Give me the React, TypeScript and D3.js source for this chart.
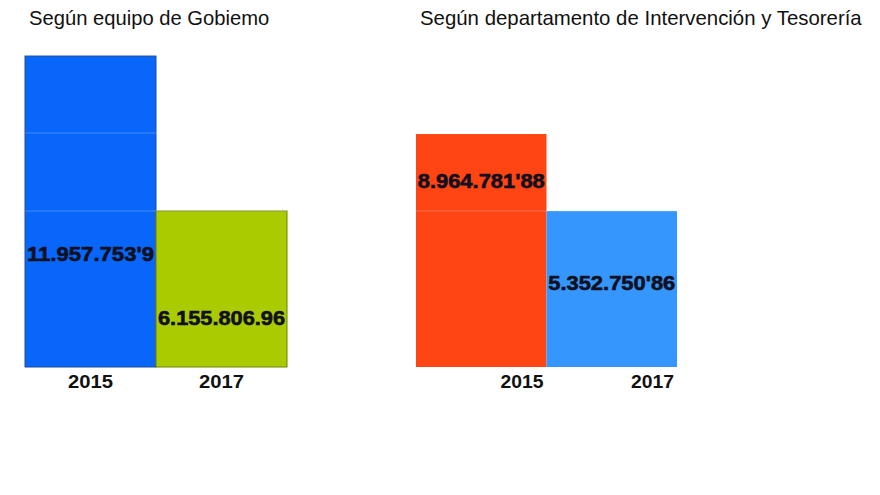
import React from "react";
import * as d3 from "d3";

const years = ["2015", "2017"];
const titles = ["Según equipo de Gobiemo", "Según departamento de Intervención y Tesorería"];
// bar heights in millions
const govHeights = [11.96, 6.0];
const treasuryHeights = [8.96, 6.0];
const govLabels = ["11.957.753'9", "6.155.806.96"];
const treasuryLabels = ["8.964.781'88", "5.352.750'86"];
const gridValues = [6, 9];

const W = 880;
const H = 495;

export default function App() {
  const y = d3.scaleLinear().domain([0, 12]).range([367, 55]);
  const xL = d3.scaleBand().domain(years).range([25, 287]).padding(0);
  const xR = d3.scaleBand().domain(years).range([416, 677]).padding(0);

  const govFill = ["#0866fb", "#aacb00"];
  const govStroke = ["#1d4f9c", "#6f8200"];
  const trFill = ["#ff4513", "#3597fd"];

  const labelYGov = [254, 318];
  const labelYTr = [181, 283];

  return (
    <svg width={W} height={H} style={{ position: "absolute", left: 0, top: 0, background: "#fff" }}
      fontFamily="'Liberation Sans', Arial, sans-serif">
      <text x={29} y={25} fontSize={20.2} fill="#111">{titles[0]}</text>
      <text x={420} y={25} fontSize={20.4} fill="#111">{titles[1]}</text>

      {years.map((yr, i) => (
        <rect key={"g" + yr} x={xL(yr)!} y={y(govHeights[i])} width={xL.bandwidth()}
          height={y(0) - y(govHeights[i])} fill={govFill[i]} stroke={govStroke[i]} strokeWidth={1} />
      ))}
      {years.map((yr, i) => (
        <rect key={"t" + yr} x={xR(yr)!} y={y(treasuryHeights[i])} width={xR.bandwidth()}
          height={y(0) - y(treasuryHeights[i])} fill={trFill[i]} />
      ))}
      {gridValues.map((v) => (
        <g key={"grid" + v}>
          <line x1={xL.range()[0]} x2={xL.range()[1]} y1={y(v)} y2={y(v)} stroke="#fff" strokeOpacity={0.25} />
          <line x1={xR.range()[0]} x2={xR.range()[1]} y1={y(v)} y2={y(v)} stroke="#fff" strokeOpacity={0.25} />
        </g>
      ))}

      {years.map((yr, i) => (
        <text key={"gl" + yr} x={xL(yr)! + xL.bandwidth() / 2} y={labelYGov[i]} dy="0.35em"
          textAnchor="middle" fontSize={20} fontWeight="bold" fill="#101020" stroke="#101020" strokeWidth={0.6}
          textLength={127} lengthAdjust="spacingAndGlyphs">{govLabels[i]}</text>
      ))}
      {years.map((yr, i) => (
        <text key={"tl" + yr} x={xR(yr)! + xR.bandwidth() / 2} y={labelYTr[i]} dy="0.35em"
          textAnchor="middle" fontSize={20} fontWeight="bold" fill="#101020" stroke="#101020" strokeWidth={0.6}
          textLength={127} lengthAdjust="spacingAndGlyphs">{treasuryLabels[i]}</text>
      ))}

      {years.map((yr) => (
        <text key={"gy" + yr} x={xL(yr)! + xL.bandwidth() / 2} y={388} textAnchor="middle"
          fontSize={18} fontWeight="bold" fill="#111" textLength={45} lengthAdjust="spacingAndGlyphs">{yr}</text>
      ))}
      {years.map((yr) => (
        <text key={"ty" + yr} x={xR(yr)! + xR.bandwidth() - 3} y={388} textAnchor="end"
          fontSize={18} fontWeight="bold" fill="#111" textLength={43} lengthAdjust="spacingAndGlyphs">{yr}</text>
      ))}
    </svg>
  );
}
